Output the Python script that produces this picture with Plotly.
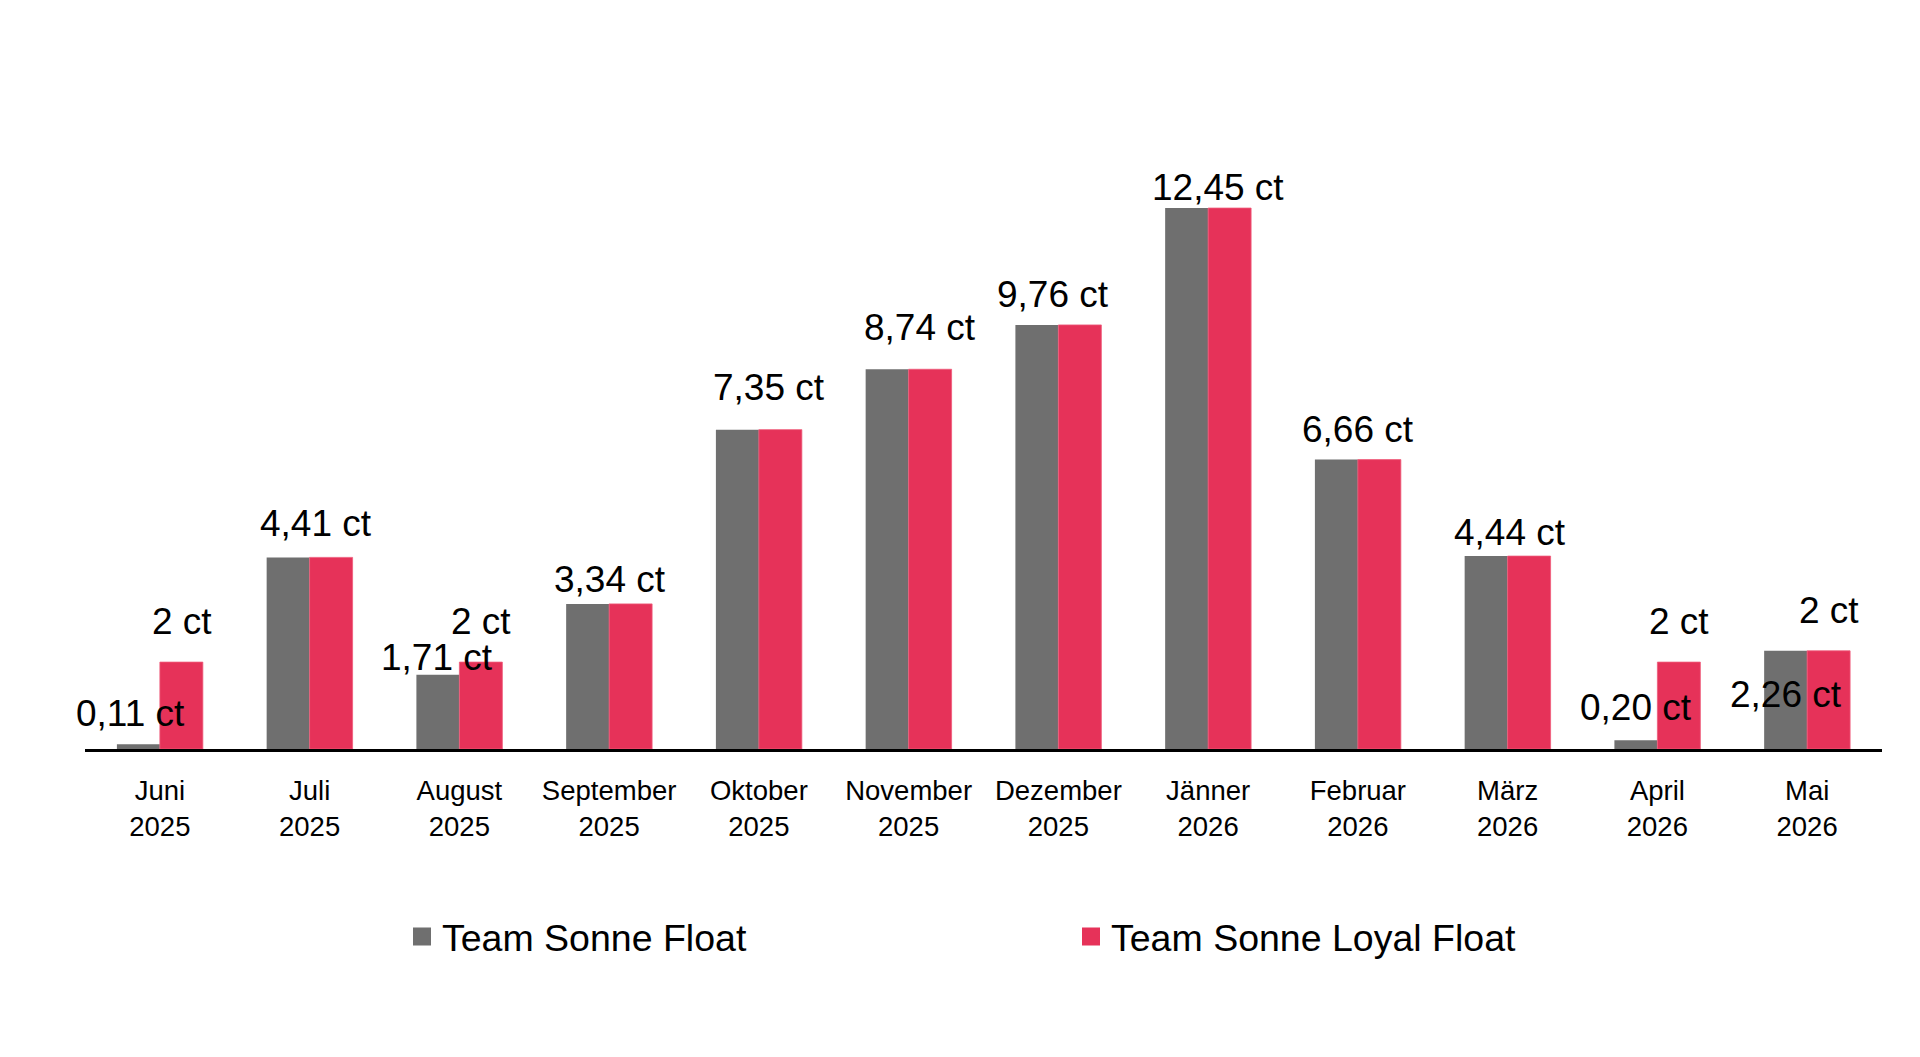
import plotly.graph_objects as go

months = ["Juni<br>2025", "Juli<br>2025", "August<br>2025", "September<br>2025",
          "Oktober<br>2025", "November<br>2025", "Dezember<br>2025", "Jänner<br>2026",
          "Februar<br>2026", "März<br>2026", "April<br>2026", "Mai<br>2026"]
float_vals = [0.11, 4.41, 1.71, 3.34, 7.35, 8.74, 9.76, 12.45, 6.66, 4.44, 0.20, 2.26]
loyal_vals = [2.00, 4.41, 2.00, 3.34, 7.35, 8.74, 9.76, 12.45, 6.66, 4.44, 2.00, 2.26]
float_labels = ["0,11 ct", "4,41 ct", "1,71 ct", "3,34 ct", "7,35 ct", "8,74 ct",
                "9,76 ct", "12,45 ct", "6,66 ct", "4,44 ct", "0,20 ct", "2,26 ct"]
loyal_labels = ["2 ct", "", "2 ct", "", "", "", "", "", "", "", "2 ct", "2 ct"]

# label placement offsets (pixels) relative to the bar top at the category centre
float_dx = [-29, 6, -22, 1, 10, 11, -5, 10, 0, 2, -21, -21]
float_dy = [31, 34, 17, 24, 42, 42, 30, 21, 30, 24, 33, -44]
loyal_dx = [22, 0, 22, 0, 0, 0, 0, 0, 0, 0, 22, 22]
loyal_dy = [41, 0, 41, 0, 0, 0, 0, 0, 0, 0, 41, 40]

GRAY = "#6f6f6f"
RED = "#e63259"
FONT = "Liberation Sans, Arial, sans-serif"

fig = go.Figure()
fig.add_trace(go.Bar(x=months, y=float_vals, marker=dict(color=GRAY, line=dict(width=0)),
                     showlegend=False, name="Team Sonne Float"))
fig.add_trace(go.Bar(x=months, y=loyal_vals, marker=dict(color=RED, line=dict(width=0.8, color="#ef5a7a")),
                     showlegend=False, name="Team Sonne Loyal Float"))

# legend entries
fig.add_trace(go.Scatter(x=[None], y=[None], mode="markers", name="Team Sonne Float",
                         marker=dict(symbol="square", size=16, color=GRAY, line=dict(width=2, color=GRAY)),
                         legend="legend"))
fig.add_trace(go.Scatter(x=[None], y=[None], mode="markers", name="Team Sonne Loyal Float",
                         marker=dict(symbol="square", size=16, color=RED, line=dict(width=2, color=RED)),
                         legend="legend2"))

annotations = []
for m, v, t, dx, dy in zip(months, float_vals, float_labels, float_dx, float_dy):
    if t:
        annotations.append(dict(x=m, y=v, xref="x", yref="y", text=t, showarrow=False,
                                xanchor="center", yanchor="middle", xshift=dx, yshift=dy,
                                font=dict(family=FONT, size=37, color="black")))
for m, v, t, dx, dy in zip(months, loyal_vals, loyal_labels, loyal_dx, loyal_dy):
    if t:
        annotations.append(dict(x=m, y=v, xref="x", yref="y", text=t, showarrow=False,
                                xanchor="center", yanchor="middle", xshift=dx, yshift=dy,
                                font=dict(family=FONT, size=37, color="black")))

fig.update_layout(
    width=1920, height=1057,
    margin=dict(l=85, r=38, t=100, b=308),
    paper_bgcolor="white", plot_bgcolor="white",
    barmode="group", bargap=0.426, bargroupgap=0,
    font=dict(family=FONT, color="black"),
    annotations=annotations,
    legend=dict(orientation="h", x=0.1764, xanchor="left", y=-0.289, yanchor="middle",
                font=dict(family=FONT, size=37.5, color="black"), bgcolor="rgba(0,0,0,0)"),
    legend2=dict(orientation="h", x=0.5487, xanchor="left", y=-0.289, yanchor="middle",
                 font=dict(family=FONT, size=37.5, color="black"), bgcolor="rgba(0,0,0,0)"),
)
fig.update_xaxes(showline=True, linecolor="black", linewidth=2.5, ticks="",
                 range=[-0.5, len(months) - 0.5], autorange=False,
                 ticklabelstandoff=15, tickfont=dict(family=FONT, size=27.5, color="black"),
                 showgrid=False, zeroline=False)
fig.update_yaxes(visible=False, range=[0, 649 / 43.45], showgrid=False, zeroline=False)

fig.write_html("out.html")
